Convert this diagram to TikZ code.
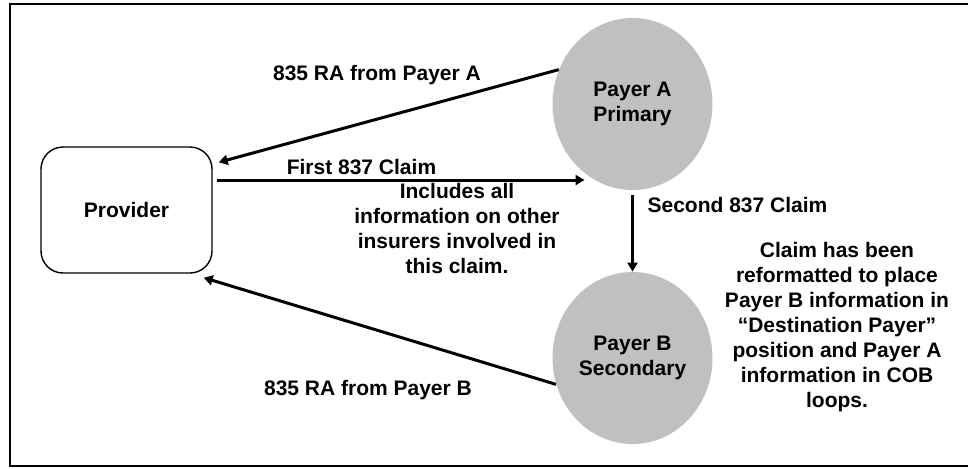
\documentclass[tikz,border=0pt]{standalone}
\usepackage{fontspec}
\setmainfont{Liberation Sans}
\usepackage{tikz}
\usetikzlibrary{shapes.geometric,arrows.meta}

\definecolor{payergray}{RGB}{192,192,192}

\tikzset{
  payer/.style={ellipse, fill=payergray, minimum width=80pt, minimum height=86pt,
    inner sep=0pt, align=center},
  prov/.style={rectangle, draw, line width=0.7pt, rounded corners=11pt,
    minimum width=85.5pt, minimum height=63pt},
  arr/.style={line width=1.5pt, -{Triangle[length=4.5pt,width=5pt]}},
  note/.style={align=center}
}

\begin{document}
\begin{tikzpicture}[x=0.5pt, y=-0.5pt, font=\bfseries\fontsize{10.5}{12.5}\selectfont]
    \useasboundingbox (0,0) rectangle (968,468);
    % outer frame
    \draw[line width=1pt] (10,4) rectangle (985,466);

    \node[prov] (provider) at (126.5,210) {Provider};
    \node[payer] (payerA) at (632.5,104) {Payer A\\Primary};
    \node[payer] (payerB) at (632.5,358) {Payer B\\Secondary};

    \coordinate (claimStart) at ([xshift=2pt,yshift=15pt]provider.east);

    \draw[arr] (payerA.155) -- ([xshift=3pt,yshift=-8pt]provider.north east);
    \draw[arr, shorten >=24pt] (claimStart) -- (claimStart -| payerA.center);
    \draw[arr] ([yshift=-2.5pt]payerA.south) -- (payerB.north);
    \draw[arr] (payerB.199) -- ([xshift=-4.5pt,yshift=-2pt]provider.south east);

    \node (raAText) at (377,75) {835 RA from Payer A};
    \node (firstText) at (361.5,167) {First 837 Claim};
    \node[note] (firstNote) at (457,228.5) {Includes all\\information on other\\insurers involved in\\this claim.};
    \node (secondText) at (737.5,205) {Second 837 Claim};
    \node[note] (cobNote) at (837,327.5) {Claim has been\\reformatted to place\\Payer B information in\\“Destination Payer”\\position and Payer A\\information in COB\\loops.};
    \node (raBText) at (368,390) {835 RA from Payer B};
\end{tikzpicture}
\end{document}
